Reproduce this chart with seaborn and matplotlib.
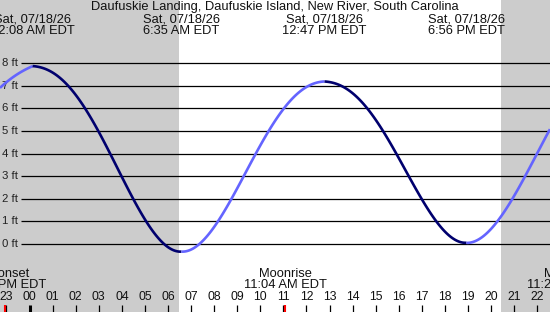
import matplotlib
matplotlib.use("Agg")
import matplotlib.pyplot as plt
import seaborn as sns
import pandas as pd

# ---------------- data ----------------
title = "Daufuskie Landing, Daufuskie Island, New River, South Carolina"

# water level readings (hours from local midnight, feet)
tide_hours = [-1.28, -1.0, -0.75, -0.5, -0.25, 0.0, 0.133,
              0.5, 1.0, 1.5, 2.0, 2.5, 3.0, 3.5, 4.0, 4.5, 5.0, 5.5, 6.0, 6.583,
              7.0, 7.5, 8.0, 8.5, 9.0, 9.5, 10.0, 10.5, 11.0, 11.5, 12.0, 12.5, 12.783,
              13.0, 13.5, 14.0, 14.5, 15.0, 15.5, 16.0, 16.5, 17.0, 17.5, 18.0, 18.5, 18.933,
              19.5, 20.0, 20.5, 21.0, 21.5, 22.0, 22.55]
tide_ft = [6.90, 7.15, 7.35, 7.52, 7.67, 7.80, 7.86,
           7.81, 7.58, 7.17, 6.59, 5.84, 4.96, 3.99, 2.97, 1.98, 1.08, 0.36, -0.13, -0.34,
           -0.24, 0.13, 0.75, 1.55, 2.46, 3.42, 4.36, 5.22, 5.96, 6.54, 6.94, 7.15, 7.18,
           7.16, 7.00, 6.66, 6.15, 5.49, 4.69, 3.80, 2.88, 1.97, 1.17, 0.55, 0.16, 0.05,
           0.23, 0.66, 1.32, 2.14, 3.05, 4.00, 5.08]

extreme_hours = [0.133, 6.583, 12.783, 18.933]
extreme_dates = ["Sat, 07/18/26", "Sat, 07/18/26", "Sat, 07/18/26", "Sat, 07/18/26"]
extreme_times = ["12:08 AM EDT", "6:35 AM EDT", "12:47 PM EDT", "6:56 PM EDT"]

sunrise_hour = 6.48
sunset_hour = 20.45

moon_hours = [-1.08, 11.07, 23.35]
moon_events = ["Moonset", "Moonrise", "Moonset"]
moon_times = ["10:55 PM EDT", "11:04 AM EDT", "11:25 PM EDT"]

hour_ticks = list(range(-1, 23))
hour_labels = ["23"] + ["%02d" % h for h in range(0, 23)]

ft_levels = [0, 1, 2, 3, 4, 5, 6, 7, 8]
ft_labels = ["%d ft" % v for v in ft_levels]

# ------------- split readings into rising / falling runs -------------
rows = []
bounds = [tide_hours[0]] + extreme_hours + [tide_hours[-1]]
for i in range(len(bounds) - 1):
    a, b = bounds[i], bounds[i + 1]
    pts = [(h, v) for h, v in zip(tide_hours, tide_ft) if a - 1e-9 <= h <= b + 1e-9]
    direction = "rise" if pts[-1][1] > pts[0][1] else "fall"
    for h, v in pts:
        rows.append({"hour": h, "ft": v, "dir": direction, "seg": i})
df = pd.DataFrame(rows)

# ---------------- figure ----------------
sns.set_theme(style="white")
plt.rcParams["font.family"] = ["Liberation Sans", "DejaVu Sans"]

W, H = 550, 312
fig = plt.figure(figsize=(W / 100, H / 100), dpi=100)
ax = fig.add_axes([0, 0, 1, 1])

x0_px, px_per_hr = 29.5, 23.08
y0_px, px_per_ft = 244.0, 22.625
xmin = -x0_px / px_per_hr
xmax = (W - x0_px) / px_per_hr
ymin = -(H - y0_px) / px_per_ft
ymax = y0_px / px_per_ft

night = "#cccccc"
ax.axvspan(xmin - 1, sunrise_hour, color=night, lw=0, zorder=0)
ax.axvspan(sunset_hour, xmax + 1, color=night, lw=0, zorder=0)

# horizontal level lines
line_start = (21 - x0_px) / px_per_hr
ax.hlines(ft_levels, line_start, xmax + 1, colors="black", lw=0.9, zorder=1)
for v, lab in zip(ft_levels, ft_labels):
    ax.text(2 / W, v, lab, transform=ax.get_yaxis_transform(),
            ha="left", va="center", fontsize=8.2, color="#222222")

# tide curve: smooth fitted line per rising / falling run
palette = {"rise": "#6464ff", "fall": "#00006e"}
for s, g in df.groupby("seg"):
    order = 5 if len(g) > 8 else 3
    sns.regplot(data=g, x="hour", y="ft", order=order, ci=None, scatter=False,
                truncate=True, color=palette[g["dir"].iloc[0]],
                line_kws={"lw": 1.9, "zorder": 3, "solid_capstyle": "butt"}, ax=ax)

ax.set_xlabel("")
ax.set_ylabel("")
ax.set_xlim(xmin, xmax)
ax.set_ylim(ymin, ymax)
ax.set_facecolor("white")
for sp in ax.spines.values():
    sp.set_visible(False)
ax.set_xticks([])
ax.set_yticks([])

xtr = ax.get_xaxis_transform()


def fy(px):
    return 1 - px / H


FS = 9.3
# title and extremes header
ax.text(0.5, fy(7), title, transform=ax.transAxes, ha="center", va="center",
        fontsize=FS, color="#111111")
for h, d, t in zip(extreme_hours, extreme_dates, extreme_times):
    ax.text(h, fy(20), d, transform=xtr, ha="center", va="center", fontsize=FS,
            color="#111111")
    ax.text(h, fy(31.5), t, transform=xtr, ha="center", va="center", fontsize=FS,
            color="#111111")

# bottom: moon events
for h, e, t in zip(moon_hours, moon_events, moon_times):
    ax.text(h, fy(274), e, transform=xtr, ha="center", va="center", fontsize=FS,
            color="#111111")
    ax.text(h, fy(285.5), t, transform=xtr, ha="center", va="center", fontsize=FS,
            color="#111111")
    ax.vlines(h, 0, fy(304.5), transform=xtr, colors="red", lw=1.5, zorder=4)

# hour labels and ticks
for h, lab in zip(hour_ticks, hour_labels):
    ax.text(h, fy(297.5), lab, transform=xtr, ha="center", va="center",
            fontsize=8.8, color="#111111")
    ax.vlines(h, 0, fy(304.5), transform=xtr, colors="black",
              lw=2.2 if h == 0 else 0.9, zorder=3)

fig.savefig("out.png", dpi=100)
